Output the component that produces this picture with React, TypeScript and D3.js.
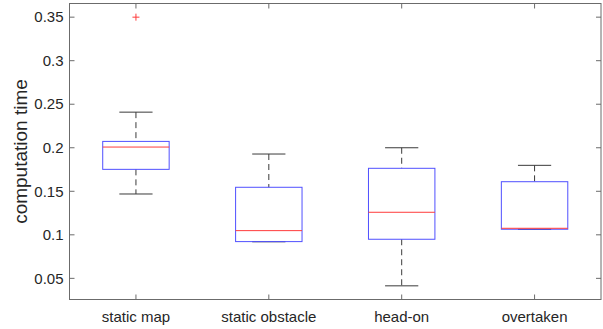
import React from "react";
import * as d3 from "d3";

// categories and box stats
const categories = ["static map", "static obstacle", "head-on", "overtaken"];
const lowerWhisker = [0.1469, 0.092, 0.0414, 0.1063];
const q1 = [0.1752, 0.0922, 0.0949, 0.1064];
const median = [0.2008, 0.1048, 0.1259, 0.1075];
const q3 = [0.2073, 0.1546, 0.1764, 0.161];
const upperWhisker = [0.2409, 0.1928, 0.2, 0.1798];
const outliers = [[0.35], [], [], []];
const yTicks = [0.05, 0.1, 0.15, 0.2, 0.25, 0.3, 0.35];

const W = 603;
const H = 329;
const margin = { top: 3.5, right: 2, bottom: 29.5, left: 69.5 };

export default function App() {
  const x = d3
    .scaleLinear()
    .domain([0.5, categories.length + 0.5])
    .range([margin.left, W - margin.right]);
  const y = d3
    .scaleLinear()
    .domain([0.0257, 0.3657])
    .range([H - margin.bottom, margin.top]);

  const axisColor = "#6b6b6b";
  const textColor = "#262626";
  const font = "'Liberation Sans', Arial, sans-serif";
  const tick = 5;
  const x0 = x.range()[0];
  const x1 = x.range()[1];
  const y0 = y.range()[0];
  const y1 = y.range()[1];

  return (
    <svg
      width={W}
      height={H}
      style={{ position: "absolute", left: 0, top: 0, background: "#fff" }}
    >
      {/* boxes */}
      {categories.map((c, i) => {
        const cx = x(i + 1);
        const bw = x(1.25) - x(1);
        const cw = x(1.125) - x(1);
        return (
          <g key={c}>
            <line x1={cx} x2={cx} y1={y(upperWhisker[i])} y2={y(q3[i])} stroke="#3a3a3a" strokeDasharray="6,4" />
            <line x1={cx} x2={cx} y1={y(q1[i])} y2={y(lowerWhisker[i])} stroke="#3a3a3a" strokeDasharray="6,4" />
            <line x1={cx - cw} x2={cx + cw} y1={y(upperWhisker[i])} y2={y(upperWhisker[i])} stroke="#3a3a3a" />
            <line x1={cx - cw} x2={cx + cw} y1={y(lowerWhisker[i])} y2={y(lowerWhisker[i])} stroke="#3a3a3a" />
            <rect
              x={cx - bw}
              y={y(q3[i])}
              width={2 * bw}
              height={y(q1[i]) - y(q3[i])}
              fill="none"
              stroke="#5050ff"
            />
            <line x1={cx - bw} x2={cx + bw} y1={y(median[i])} y2={y(median[i])} stroke="#ff3b3b" />
            {outliers[i].map((o, k) => (
              <g key={k} stroke="#ff3b3b">
                <line x1={cx - 3.5} x2={cx + 3.5} y1={y(o)} y2={y(o)} />
                <line x1={cx} x2={cx} y1={y(o) - 3.5} y2={y(o) + 3.5} />
              </g>
            ))}
          </g>
        );
      })}

      {/* axes box */}
      <rect x={x0} y={y1} width={x1 - x0} height={y0 - y1} fill="none" stroke={axisColor} />
      {yTicks.map((t) => (
        <g key={t}>
          <line x1={x0} x2={x0 + tick} y1={y(t)} y2={y(t)} stroke={axisColor} />
          <line x1={x1 - tick} x2={x1} y1={y(t)} y2={y(t)} stroke={axisColor} />
          <text
            x={x0 - 6}
            y={y(t)}
            dy="0.35em"
            textAnchor="end"
            fontSize={15}
            fontFamily={font}
            fill={textColor}
          >
            {String(t)}
          </text>
        </g>
      ))}
      {categories.map((c, i) => (
        <g key={c}>
          <line x1={x(i + 1)} x2={x(i + 1)} y1={y0} y2={y0 - tick} stroke={axisColor} />
          <line x1={x(i + 1)} x2={x(i + 1)} y1={y1} y2={y1 + tick} stroke={axisColor} />
          <text
            x={x(i + 1)}
            y={322}
            textAnchor="middle"
            fontSize={15}
            fontFamily={font}
            fill={textColor}
          >
            {c}
          </text>
        </g>
      ))}
      <text
        transform={`translate(27,${(y0 + y1) / 2}) rotate(-90)`}
        textAnchor="middle"
        fontSize={19}
        fontFamily={font}
        fill={textColor}
      >
        computation time
      </text>
    </svg>
  );
}
